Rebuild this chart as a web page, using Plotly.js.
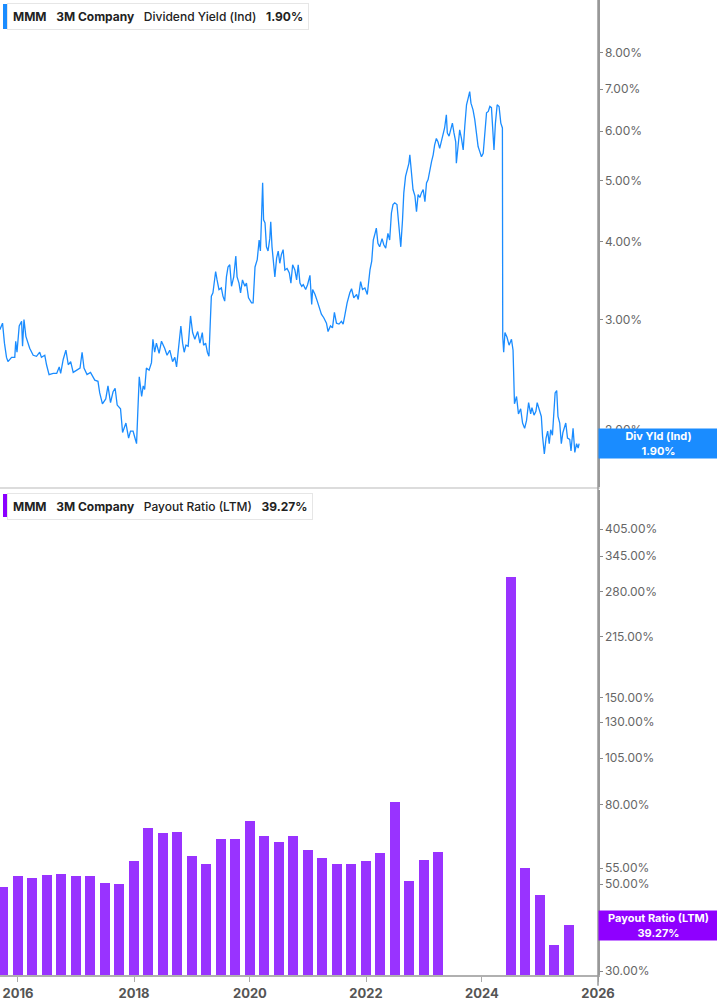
<!DOCTYPE html>
<html>
<head>
<meta charset="utf-8">
<script src="https://cdn.plot.ly/plotly-3.0.1.min.js"></script>
<style>
  html, body { margin: 0; padding: 0; background: #fff; }
  #chart { width: 717px; height: 1005px; }
</style>
</head>
<body>
<div id="chart"></div>
<script>
// dividend yield (Ind)
var yldDates = [
  "2015-09-09","2015-09-26","2015-10-08","2015-10-21","2015-10-30","2015-11-22","2015-12-12","2015-12-18","2015-12-26",
  "2016-01-09","2016-01-24","2016-01-30","2016-02-08","2016-02-20","2016-03-15","2016-04-06","2016-04-27","2016-05-17",
  "2016-05-28","2016-06-18","2016-06-29","2016-07-15","2016-08-10","2016-09-01","2016-09-17","2016-09-26","2016-10-12",
  "2016-10-29","2016-11-13","2016-11-28","2016-12-14","2017-01-09","2017-01-26","2017-02-08","2017-02-20","2017-03-11",
  "2017-04-02","2017-04-29","2017-05-19","2017-05-30","2017-06-16","2017-07-07","2017-07-21","2017-08-06","2017-08-22",
  "2017-09-04","2017-09-17","2017-10-08","2017-10-21","2017-11-11","2017-11-28","2017-12-10","2017-12-26","2018-01-07",
  "2018-01-17","2018-01-25","2018-02-03","2018-02-18","2018-02-28","2018-03-09","2018-03-20","2018-04-06","2018-04-21",
  "2018-04-30","2018-05-11","2018-05-22","2018-06-08","2018-06-23","2018-07-13","2018-07-28","2018-08-14","2018-09-01",
  "2018-09-15","2018-09-26","2018-10-12","2018-10-23","2018-11-03","2018-11-13","2018-11-24","2018-12-08","2018-12-23",
  "2019-01-05","2019-01-19","2019-02-06","2019-02-20","2019-03-07","2019-03-15","2019-03-28","2019-04-08","2019-04-18",
  "2019-04-27","2019-05-03","2019-05-13","2019-05-24","2019-05-30","2019-06-08","2019-06-20","2019-07-05","2019-07-15",
  "2019-07-26","2019-08-06","2019-08-16","2019-08-27","2019-09-07","2019-09-21","2019-10-04","2019-10-12","2019-10-24",
  "2019-11-03","2019-11-15","2019-11-30","2019-12-10","2019-12-23","2020-01-11","2020-01-21","2020-02-02","2020-02-16",
  "2020-02-28","2020-03-07","2020-03-15","2020-03-21","2020-03-27","2020-04-05","2020-04-14","2020-04-24","2020-05-05",
  "2020-05-11","2020-05-19","2020-05-30","2020-06-06","2020-06-17","2020-06-27","2020-07-07","2020-07-17","2020-07-28",
  "2020-08-08","2020-08-22","2020-09-05","2020-09-15","2020-09-26","2020-10-10","2020-10-21","2020-10-31","2020-11-11",
  "2020-11-22","2020-12-02","2020-12-17","2020-12-29","2021-01-13","2021-01-24","2021-01-30","2021-02-14","2021-02-28",
  "2021-03-11","2021-03-26","2021-04-10","2021-04-27","2021-05-07","2021-05-22","2021-06-04","2021-06-16","2021-06-29",
  "2021-07-15","2021-07-30","2021-08-10","2021-08-20","2021-09-04","2021-09-21","2021-10-02","2021-10-16","2021-11-03",
  "2021-11-13","2021-11-28","2021-12-10","2021-12-25","2022-01-09","2022-01-26","2022-02-06","2022-02-16","2022-02-27",
  "2022-03-07","2022-03-17","2022-03-28","2022-04-12","2022-04-23","2022-05-05","2022-05-19","2022-05-30","2022-06-10",
  "2022-06-20","2022-07-01","2022-07-15","2022-07-28","2022-08-08","2022-08-19","2022-08-27","2022-09-07","2022-09-17",
  "2022-09-28","2022-10-04","2022-10-14","2022-10-24","2022-11-05","2022-11-15","2022-11-25","2022-12-06","2022-12-16",
  "2022-12-27","2023-01-07","2023-01-17","2023-01-27","2023-02-08","2023-02-18","2023-02-28","2023-03-09","2023-03-20",
  "2023-03-30","2023-04-10","2023-04-21","2023-04-30","2023-05-11","2023-05-22","2023-05-28","2023-06-08","2023-06-18",
  "2023-06-29","2023-07-09","2023-07-20","2023-07-24","2023-08-04","2023-08-14","2023-08-25","2023-09-05","2023-09-15",
  "2023-09-26","2023-10-06","2023-10-16","2023-10-24","2023-11-06","2023-11-17","2023-11-28","2023-12-08","2023-12-18",
  "2023-12-29","2024-01-09","2024-01-19","2024-01-30","2024-02-10","2024-02-20","2024-03-01","2024-03-11","2024-03-17",
  "2024-03-26","2024-04-06","2024-04-18","2024-04-29","2024-05-09","2024-05-11","2024-05-17","2024-05-25","2024-06-07",
  "2024-06-20","2024-07-05","2024-07-15","2024-07-24","2024-08-06","2024-08-18","2024-09-01","2024-09-13","2024-09-26",
  "2024-10-08","2024-10-21","2024-11-03","2024-11-11","2024-11-24","2024-12-06","2024-12-14","2024-12-27","2025-01-09",
  "2025-01-17","2025-01-28","2025-02-08","2025-02-18","2025-02-28","2025-03-09","2025-03-20","2025-03-28","2025-04-06",
  "2025-04-16","2025-04-24","2025-05-05","2025-05-15","2025-05-25","2025-06-12","2025-06-23","2025-07-07","2025-07-15",
  "2025-07-28","2025-08-08","2025-08-19","2025-08-29","2025-09-04"
]
var yldValues = [
  2.89,2.96,2.75,2.61,2.57,2.61,2.61,2.77,2.66,
  2.93,2.98,2.72,3.00,2.82,2.70,2.63,2.62,2.66,
  2.61,2.63,2.54,2.45,2.46,2.46,2.52,2.46,2.59,
  2.68,2.54,2.57,2.47,2.49,2.51,2.66,2.51,2.45,
  2.47,2.40,2.39,2.29,2.20,2.24,2.35,2.21,2.30,
  2.33,2.19,2.16,1.98,2.05,1.94,1.99,1.99,1.94,
  1.90,2.14,2.43,2.26,2.35,2.32,2.51,2.49,2.56,
  2.79,2.66,2.75,2.65,2.77,2.70,2.63,2.68,2.57,
  2.61,2.52,2.75,2.93,2.75,2.66,2.73,2.72,3.04,
  2.86,2.79,2.87,2.75,2.86,2.73,2.75,2.66,2.62,
  3.00,3.27,3.31,3.47,3.58,3.47,3.35,3.37,3.27,
  3.21,3.51,3.64,3.67,3.39,3.51,3.79,3.51,3.43,
  3.31,3.47,3.39,3.43,3.25,3.19,3.19,3.64,3.74,
  4.02,3.86,4.44,4.96,4.33,4.28,3.92,3.86,4.04,
  4.30,3.92,3.69,3.51,3.76,3.86,3.69,3.81,3.88,
  3.60,3.62,3.56,3.43,3.67,3.60,3.47,3.67,3.43,
  3.39,3.41,3.35,3.41,3.53,3.17,3.35,3.29,3.21,
  3.15,3.06,3.02,2.96,2.87,2.93,2.91,3.08,2.96,
  2.95,2.98,2.95,3.04,3.19,3.31,3.36,3.25,3.29,
  3.23,3.45,3.35,3.37,3.29,3.60,3.72,4.02,4.12,
  4.20,3.97,3.92,4.04,3.95,3.90,4.12,4.02,4.44,
  4.58,4.61,4.58,4.22,3.92,4.33,4.78,5.08,5.20,
  5.33,5.50,5.20,4.84,4.73,4.46,4.75,4.70,4.78,
  4.84,4.63,4.96,5.02,5.23,5.37,5.50,5.70,5.84,
  5.77,5.63,5.77,5.92,6.07,6.37,5.96,5.89,6.03,
  6.18,5.96,5.77,5.33,5.74,6.03,5.84,5.60,6.11,
  6.61,6.77,6.94,6.65,6.49,6.26,5.89,5.67,5.57,
  5.46,5.53,5.91,6.42,6.45,6.57,6.54,5.84,5.60,
  6.18,6.61,6.57,6.18,6.07,2.82,2.66,2.86,2.81,
  2.73,2.79,2.68,2.20,2.26,2.12,2.16,2.05,2.01,
  2.07,2.21,2.12,2.17,2.11,2.14,2.21,2.15,2.10,
  1.95,1.83,1.94,1.99,1.90,2.00,1.96,2.12,2.29,
  2.31,2.10,2.05,1.90,1.98,2.05,1.94,1.93,1.85,
  2.01,1.84,1.90,1.87,1.90
]

// payout ratio (LTM), quarterly
var payQuarters = [
  "2015-09-30","2015-12-31","2016-03-31","2016-06-30","2016-09-30","2016-12-31","2017-03-31","2017-06-30","2017-09-30",
  "2017-12-31","2018-03-31","2018-06-30","2018-09-30","2018-12-31","2019-03-31","2019-06-30","2019-09-30","2019-12-31",
  "2020-03-31","2020-06-30","2020-09-30","2020-12-31","2021-03-31","2021-06-30","2021-09-30","2021-12-31","2022-03-31",
  "2022-06-30","2022-09-30","2022-12-31","2023-03-31","2024-06-30","2024-09-30","2024-12-31","2025-03-31","2025-06-30"
]
var payValues = [
  49.2,52.4,52.0,52.8,53.0,52.4,52.5,50.3,50.0,
  57.2,69.8,67.7,68.0,59.2,56.3,65.4,65.4,72.4,
  66.3,64.1,66.4,61.2,58.2,56.4,56.4,57.2,60.1,
  81.3,51.1,57.8,60.5,305,54.9,47.0,35.0,39.27
]

var yldTicks = [2, 3, 4, 5, 6, 7, 8]
var payTicks = [30, 50, 55, 80, 105, 130, 150, 215, 280, 345, 405]

var blue = "#1a8cff"
var purple = "#9933ff"
var sp = "\u00a0\u00a0\u00a0"

var trace1 = {
  x: yldDates, y: yldValues, type: "scatter", mode: "lines",
  line: {color: blue, width: 1.3}, xaxis: "x2", yaxis: "y",
  hoverinfo: "skip"
}
var trace2 = {
  x: payQuarters, y: payValues, type: "bar",
  width: 63 * 86400000,
  marker: {color: purple, line: {width: 0}},
  xaxis: "x", yaxis: "y2", hoverinfo: "skip"
}

var xr = ["2015-09-10", "2026-01-01"]
var tickFont = {family: "Inter, sans-serif", size: 12, color: "#666"}
var legFont = {family: "Inter, sans-serif", size: 12, color: "#222", weight: 500}

var layout = {
  width: 717, height: 1005,
  margin: {l: 0, r: 119, t: 0, b: 30},
  paper_bgcolor: "#fff", plot_bgcolor: "#fff",
  showlegend: false,
  bargap: 0,
  xaxis: {
    type: "date", range: xr, anchor: "y2", domain: [0, 1],
    tick0: "2016-01-01", dtick: "M24", tickformat: "%Y",
    ticks: "outside", ticklen: 5, tickcolor: "#aaa",
    showline: true, linecolor: "#b0b0b0", linewidth: 2,
    showgrid: false, zeroline: false,
    tickfont: {family: "Inter, sans-serif", size: 13, color: "#555", weight: "bold"}
  },
  xaxis2: {
    type: "date", range: xr, anchor: "y", domain: [0, 1],
    showticklabels: false, ticks: "",
    showline: true, linecolor: "#dcdcdc", linewidth: 2,
    showgrid: false, zeroline: false
  },
  yaxis: {
    type: "log", domain: [0.5005, 1], side: "right", anchor: "x2",
    range: [Math.log10(1.62), Math.log10(9.72)],
    tickvals: yldTicks, ticktext: yldTicks.map(function(v){ return v.toFixed(2) + "%" }),
    ticks: "outside", ticklen: 3, tickcolor: "#888",
    showline: true, linecolor: "#999", linewidth: 1.5,
    showgrid: false, zeroline: false, tickfont: tickFont
  },
  yaxis2: {
    type: "log", domain: [0, 0.4974], side: "right", anchor: "x",
    range: [1.4669, 2.7073],
    tickvals: payTicks, ticktext: payTicks.map(function(v){ return v.toFixed(2) + "%" }),
    ticks: "outside", ticklen: 3, tickcolor: "#888",
    showline: true, linecolor: "#999", linewidth: 1.5,
    showgrid: false, zeroline: false, tickfont: tickFont
  },
  shapes: [
    // right axis runs the full height
    {type: "line", xref: "paper", yref: "paper", x0: 1, x1: 1, y0: -0.011, y1: 1,
     line: {color: "#999", width: 1.5}},
    // coloured accents on the legend boxes
    {type: "rect", xref: "paper", yref: "paper", x0: 3/598, x1: 7/598, y0: 1 - 4/975, y1: 1 - 29/975,
     fillcolor: blue, line: {width: 0}},
    {type: "rect", xref: "paper", yref: "paper", x0: 3/598, x1: 7/598, y0: 1 - 494/975, y1: 1 - 517/975,
     fillcolor: "#8a00ff", line: {width: 0}}
  ],
  annotations: [
    {xref: "paper", yref: "paper", x: 7/598, y: 1 - 3/975, xanchor: "left", yanchor: "top",
     text: "<b>MMM</b>" + sp + "<b>3M Company</b>" + sp + "Dividend Yield (Ind)" + sp + "<b>1.90%</b>",
     showarrow: false, align: "left", bgcolor: "#fff", bordercolor: "#e6e6e6", borderwidth: 1, borderpad: 5,
     font: legFont},
    {xref: "paper", yref: "paper", x: 7/598, y: 1 - 493/975, xanchor: "left", yanchor: "top",
     text: "<b>MMM</b>" + sp + "<b>3M Company</b>" + sp + "Payout Ratio (LTM)" + sp + "<b>39.27%</b>",
     showarrow: false, align: "left", bgcolor: "#fff", bordercolor: "#e6e6e6", borderwidth: 1, borderpad: 5,
     font: legFont},
    {xref: "paper", yref: "y", x: 1, y: Math.log10(yldValues[yldValues.length - 1]),
     xanchor: "left", yanchor: "middle", showarrow: false,
     text: "<b>Div Yld (Ind)</b><br><b>1.90%</b>", align: "center",
     bgcolor: blue, width: 119, height: 29, borderpad: 0,
     font: {family: "Inter, sans-serif", size: 11, color: "#fff"}},
    {xref: "paper", yref: "y2", x: 1, y: Math.log10(payValues[payValues.length - 1]),
     xanchor: "left", yanchor: "middle", showarrow: false,
     text: "<b>Payout Ratio (LTM)</b><br><b>39.27%</b>", align: "center",
     bgcolor: "#8f00ff", width: 119, height: 29, borderpad: 0,
     font: {family: "Inter, sans-serif", size: 11, color: "#fff"}}
  ]
}

Plotly.newPlot("chart", [trace1, trace2], layout, {staticPlot: true, displayModeBar: false})
</script>
</body>
</html>
